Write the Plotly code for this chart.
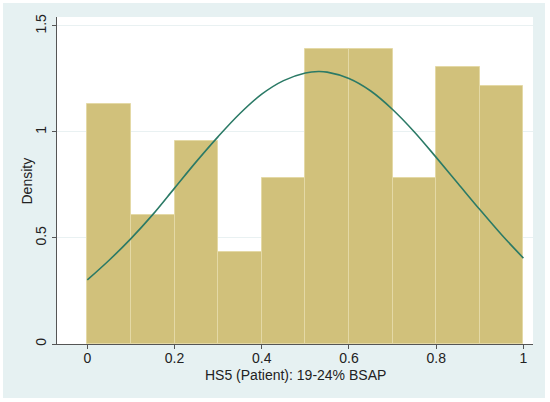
import plotly.graph_objects as go

# Histogram bins (left edges), bin width and density heights
bin_left = [0.0, 0.1, 0.2, 0.3, 0.4, 0.5, 0.6, 0.7, 0.8, 0.9]
bin_width = 0.1
density = [1.130, 0.609, 0.957, 0.435, 0.783, 1.391, 1.391, 0.783, 1.304, 1.217]

# Normal density overlay
curve_x = [0.0, 0.05, 0.1, 0.15, 0.2, 0.25, 0.3, 0.35, 0.4, 0.45, 0.5, 0.53, 0.55,
           0.6, 0.65, 0.7, 0.75, 0.8, 0.85, 0.9, 0.95, 1.0]
curve_y = [0.302, 0.395, 0.497, 0.610, 0.735, 0.860, 0.978, 1.087, 1.178, 1.242, 1.278, 1.285, 1.282,
           1.252, 1.193, 1.106, 1.000, 0.880, 0.757, 0.634, 0.515, 0.405]

x_ticks = [0, 0.2, 0.4, 0.6, 0.8, 1]
x_ticklabels = ["0", "0.2", "0.4", "0.6", "0.8", "1"]
y_ticks = [0, 0.5, 1, 1.5]
y_ticklabels = ["0", "0.5", "1", "1.5"]

x_title = "HS5 (Patient): 19-24% BSAP"
y_title = "Density"

bar_color = "#d1c17b"
bar_edge = "#e4d9a6"
line_color = "#2b7a66"
outer_bg = "#e6f1f2"
axis_color = "#555555"
text_color = "#222222"
font_family = "Liberation Sans, Arial, sans-serif"

centers = [b + bin_width / 2 for b in bin_left]

fig = go.Figure()
fig.add_trace(go.Bar(
    x=centers, y=density, width=[bin_width] * len(centers),
    marker=dict(color=bar_color, line=dict(color=bar_edge, width=1)),
    showlegend=False, hoverinfo="skip",
))
fig.add_trace(go.Scatter(
    x=curve_x, y=curve_y, mode="lines", line=dict(color=line_color, width=1.6, shape="spline"),
    showlegend=False, hoverinfo="skip",
))

W, H = 550, 402
ml, mr, mt, mb = 57, 17, 17, 58
pw, ph = W - ml - mr, H - mt - mb

def px_to_paper_x(px):
    return (px - ml) / pw

def px_to_paper_y(py):
    return 1 - (py - mt) / ph

fig.update_layout(
    width=W, height=H,
    margin=dict(l=ml, r=mr, t=mt, b=mb, pad=0, autoexpand=False),
    paper_bgcolor="white",
    plot_bgcolor="white",
    font=dict(family=font_family, size=14, color=text_color),
    bargap=0,
    shapes=[
        dict(type="rect", xref="paper", yref="paper", layer="below",
             x0=px_to_paper_x(3), x1=px_to_paper_x(545),
             y0=px_to_paper_y(398), y1=px_to_paper_y(3),
             fillcolor=outer_bg, line=dict(width=0)),
        dict(type="rect", xref="paper", yref="paper", layer="below",
             x0=0, x1=1, y0=0, y1=1,
             fillcolor="white", line=dict(width=0)),
    ],
    annotations=[
        dict(text=x_title, xref="paper", yref="paper", x=0.5, y=px_to_paper_y(375),
             xanchor="center", yanchor="middle", showarrow=False,
             font=dict(size=14, color=text_color)),
        dict(text=y_title, xref="paper", yref="paper", x=px_to_paper_x(26), y=0.5,
             xanchor="center", yanchor="middle", showarrow=False, textangle=-90,
             font=dict(size=14, color=text_color)),
    ],
)

fig.update_xaxes(
    automargin=False,
    range=[-0.0695, 1.022],
    tickvals=x_ticks, ticktext=x_ticklabels,
    ticks="outside", ticklen=4, tickcolor=axis_color, tickwidth=1,
    ticklabelstandoff=-3,
    showline=True, linecolor=axis_color, linewidth=1,
    showgrid=False, zeroline=False,
    tickfont=dict(size=14),
)
fig.update_yaxes(
    automargin=False,
    range=[0, 1.542],
    tickvals=y_ticks, ticktext=y_ticklabels,
    ticks="outside", ticklen=4, tickcolor=axis_color, tickwidth=1,
    showline=True, linecolor=axis_color, linewidth=1,
    showgrid=True, gridcolor="#e9f1f2", gridwidth=1,
    zeroline=False,
    tickangle=-90,
    tickfont=dict(size=14),
)

fig.write_html("out.html",
               config={"displayModeBar": False},
               post_script="document.body.style.margin='0px';document.body.style.overflow='hidden';")
